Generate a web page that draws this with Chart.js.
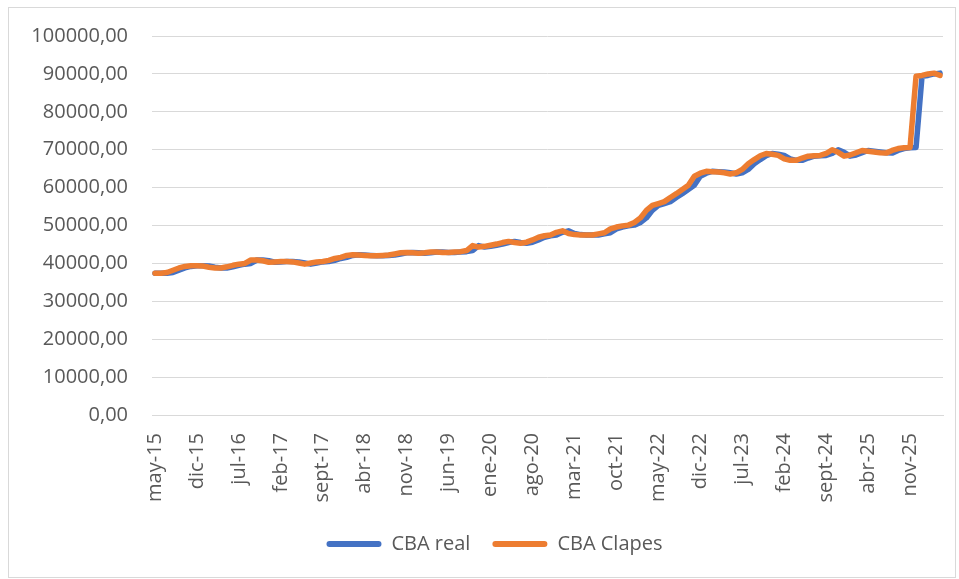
<!DOCTYPE html>
<html>
<head>
<meta charset="utf-8">
<script src="https://cdn.jsdelivr.net/npm/chart.js@4.4.1/dist/chart.umd.min.js"></script>
<style>
  html, body { margin: 0; padding: 0; background: #fff; }
  #wrap { position: relative; width: 959px; height: 579px; }
  #frame { position: absolute; left: 8px; top: 7px; width: 946px; height: 569px; border: 1px solid #d9d9d9; }
  #mycanvas { position: absolute; left: 0; top: 0; }
</style>
</head>
<body>
<div id="wrap">
  <div id="frame"></div>
  <canvas id="mycanvas" width="959" height="579"></canvas>
</div>
<script>
// meses en español, serie mensual desde may-15 hasta abr-26
var meses = ['ene', 'feb', 'mar', 'abr', 'may', 'jun', 'jul', 'ago', 'sept', 'oct', 'nov', 'dic'];
var Time = [];
for (var y = 15; y <= 26; y++) {
  for (var m = 0; m < 12; m++) {
    if (y == 15 && m < 4) continue;
    if (y == 26 && m > 3) continue;
    Time.push(meses[m] + '-' + y);
  }
}

var CBA_real = [
  37400, 37400, 37400, 37600, 38200, 38800, 39200, 39400, 39400, 39300,
  39000, 38800, 38800, 39100, 39500, 39800, 40000, 40900, 40900, 40700,
  40300, 40400, 40500, 40500, 40400, 40100, 39800, 40100, 40400, 40500,
  40800, 41300, 41600, 42100, 42300, 42200, 42100, 42000, 42000, 42100,
  42200, 42500, 42800, 42900, 42800, 42700, 42800, 43000, 43000, 42900,
  42900, 43000, 43100, 43400, 44700, 44300, 44500, 44800, 45100, 45500,
  45800, 45500, 45300, 45600, 46200, 46900, 47300, 47500, 48200, 48600,
  47900, 47600, 47500, 47500, 47500, 47800, 48100, 49100, 49600, 49900,
  50100, 50800, 52000, 54000, 55300, 55800, 56300, 57400, 58400, 59500,
  60600, 63000, 63800, 64300, 64200, 64100, 63900, 63600, 63900, 64800,
  66300, 67400, 68400, 69000, 68800, 68500, 67600, 67200, 67200, 67800,
  68300, 68400, 68500, 69000, 70000, 69300, 68300, 68600, 69200, 69800,
  69600, 69400, 69200, 69100, 69800, 70300, 70500, 70600, 89400, 89600,
  90000, 90200
];

var CBA_Clapes = [
  37400, 37400, 37600, 38200, 38800, 39200, 39400, 39400, 39300, 39000,
  38800, 38800, 39100, 39500, 39800, 40000, 40900, 40900, 40700, 40300,
  40400, 40500, 40500, 40400, 40100, 39800, 40100, 40400, 40500, 40800,
  41300, 41600, 42100, 42300, 42200, 42100, 42000, 42000, 42100, 42200,
  42500, 42800, 42900, 42800, 42700, 42800, 43000, 43000, 42900, 42900,
  43000, 43100, 43400, 44700, 44300, 44500, 44800, 45100, 45500, 45800,
  45500, 45300, 45600, 46200, 46900, 47300, 47500, 48200, 48600, 47900,
  47600, 47500, 47500, 47500, 47800, 48100, 49100, 49600, 49900, 50100,
  50800, 52000, 54000, 55300, 55800, 56300, 57400, 58400, 59500, 60600,
  63000, 63800, 64300, 64200, 64100, 63900, 63600, 63900, 64800, 66300,
  67400, 68400, 69000, 68800, 68500, 67600, 67200, 67200, 67800, 68300,
  68400, 68500, 69000, 70000, 69300, 68300, 68600, 69200, 69800, 69600,
  69400, 69200, 69100, 69800, 70300, 70500, 70600, 89400, 89600, 90000,
  90200, 89600
];

var grey = '#595959';
var font = { family: "'Open Sans', sans-serif", size: 20 };

var chartdata = {
  labels: Time,
  datasets: [
    {
      label: 'CBA real',
      borderColor: '#4472C4',
      backgroundColor: '#4472C4',
      borderWidth: 5.5,
      borderCapStyle: 'round',
      borderJoinStyle: 'round',
      pointRadius: 0,
      fill: false,
      order: 2,
      data: CBA_real
    }, {
      label: 'CBA Clapes',
      borderColor: '#ED7D31',
      backgroundColor: '#ED7D31',
      borderWidth: 5.5,
      borderCapStyle: 'round',
      borderJoinStyle: 'round',
      pointRadius: 0,
      fill: false,
      order: 1,
      data: CBA_Clapes
    }
  ]
};

// desplaza la leyenda para centrarla como en el original
var legendShift = {
  id: 'legendShift',
  afterLayout: function(chart) {
    chart.legend.left += 18;
    chart.legend.right += 18;
  }
};

var ctx = document.getElementById('mycanvas');

var lineGraph = new Chart(ctx, {
  type: 'line',
  data: chartdata,
  plugins: [legendShift],
  options: {
    responsive: false,
    animation: false,
    layout: { padding: { left: 10, right: 16, top: 35, bottom: 15 } },
    plugins: {
      tooltip: { enabled: false },
      legend: {
        position: 'bottom',
        labels: {
          color: grey,
          font: font,
          boxWidth: 55,
          boxHeight: 6,
          padding: 22,
          useBorderRadius: true,
          borderRadius: 3,
          sort: function(a, b) { return a.datasetIndex - b.datasetIndex; },
          generateLabels: function(chart) {
            var items = Chart.defaults.plugins.legend.labels.generateLabels(chart);
            items.forEach(function(it) { it.lineWidth = 0; });
            return items;
          }
        }
      }
    },
    scales: {
      x: {
        offset: true,
        grid: { display: false, drawTicks: false },
        border: { color: '#d9d9d9', width: 1 },
        ticks: {
          autoSkip: false,
          maxRotation: 90,
          minRotation: 90,
          padding: 18,
          color: grey,
          font: font,
          callback: function(value, index) {
            return index % 7 === 0 ? this.getLabelForValue(value) : '';
          }
        },
        afterFit: function(scale) {
          scale.height = 97;
          scale.paddingLeft = 0;
          scale.paddingRight = 0;
        }
      },
      y: {
        min: 0,
        max: 100000,
        grid: { color: '#d9d9d9', drawTicks: false },
        border: { display: false },
        ticks: {
          stepSize: 10000,
          padding: 24,
          color: grey,
          font: font,
          callback: function(value) { return value + ',00'; }
        },
        afterFit: function(scale) { scale.width = 142; }
      }
    }
  }
});
</script>
</body>
</html>
